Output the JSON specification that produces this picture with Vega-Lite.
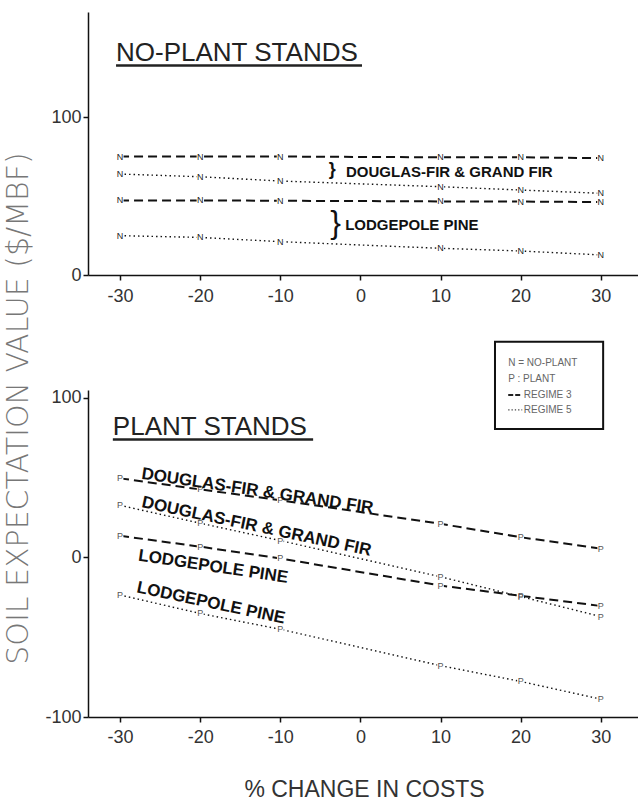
{
  "$schema": "https://vega.github.io/schema/vega-lite/v6.json",
  "padding": {"left": 2, "top": 12, "right": 0, "bottom": 2},
  "bounds": "flush",
  "spacing": 115,
  "background": "white",
  "config": {
    "view": {"stroke": null},
    "font": "Liberation Sans",
    "axis": {
      "grid": false,
      "domainColor": "#111",
      "domainWidth": 1.5,
      "tickColor": "#111",
      "tickWidth": 1.5,
      "tickSize": 5,
      "labelFont": "Liberation Sans",
      "labelFontSize": 18,
      "labelColor": "#333",
      "labelPadding": 6,
      "labelExpr": "toString(datum.value)"
    }
  },
  "datasets": {
    "noplant": [
      {"series": "DF3", "regime": "Regime 3", "code": "N", "pct": -30, "sev": 75.0},
      {"series": "DF3", "regime": "Regime 3", "code": "N", "pct": -20, "sev": 75.0},
      {"series": "DF3", "regime": "Regime 3", "code": "N", "pct": -10, "sev": 75.0},
      {"series": "DF3", "regime": "Regime 3", "code": "N", "pct": 10, "sev": 74.5},
      {"series": "DF3", "regime": "Regime 3", "code": "N", "pct": 20, "sev": 74.5},
      {"series": "DF3", "regime": "Regime 3", "code": "N", "pct": 30, "sev": 74.0},
      {"series": "DF5", "regime": "Regime 5", "code": "N", "pct": -30, "sev": 63.9},
      {"series": "DF5", "regime": "Regime 5", "code": "N", "pct": -20, "sev": 62.2},
      {"series": "DF5", "regime": "Regime 5", "code": "N", "pct": -10, "sev": 59.5},
      {"series": "DF5", "regime": "Regime 5", "code": "N", "pct": 10, "sev": 55.9},
      {"series": "DF5", "regime": "Regime 5", "code": "N", "pct": 20, "sev": 53.8},
      {"series": "DF5", "regime": "Regime 5", "code": "N", "pct": 30, "sev": 51.7},
      {"series": "LP3", "regime": "Regime 3", "code": "N", "pct": -30, "sev": 47.2},
      {"series": "LP3", "regime": "Regime 3", "code": "N", "pct": -20, "sev": 47.2},
      {"series": "LP3", "regime": "Regime 3", "code": "N", "pct": -10, "sev": 47.0},
      {"series": "LP3", "regime": "Regime 3", "code": "N", "pct": 10, "sev": 46.6},
      {"series": "LP3", "regime": "Regime 3", "code": "N", "pct": 20, "sev": 46.5},
      {"series": "LP3", "regime": "Regime 3", "code": "N", "pct": 30, "sev": 46.2},
      {"series": "LP5", "regime": "Regime 5", "code": "N", "pct": -30, "sev": 24.9},
      {"series": "LP5", "regime": "Regime 5", "code": "N", "pct": -20, "sev": 23.8},
      {"series": "LP5", "regime": "Regime 5", "code": "N", "pct": -10, "sev": 21.1},
      {"series": "LP5", "regime": "Regime 5", "code": "N", "pct": 10, "sev": 16.9},
      {"series": "LP5", "regime": "Regime 5", "code": "N", "pct": 20, "sev": 15.2},
      {"series": "LP5", "regime": "Regime 5", "code": "N", "pct": 30, "sev": 12.7}
    ],
    "plant": [
      {"series": "DF3", "regime": "Regime 3", "code": "P", "pct": -30, "sev": 49.6},
      {"series": "DF3", "regime": "Regime 3", "code": "P", "pct": -20, "sev": 42.7},
      {"series": "DF3", "regime": "Regime 3", "code": "P", "pct": -10, "sev": 35.9},
      {"series": "DF3", "regime": "Regime 3", "code": "P", "pct": 10, "sev": 21.1},
      {"series": "DF3", "regime": "Regime 3", "code": "P", "pct": 20, "sev": 12.7},
      {"series": "DF3", "regime": "Regime 3", "code": "P", "pct": 30, "sev": 5.6},
      {"series": "DF5", "regime": "Regime 5", "code": "P", "pct": -30, "sev": 32.7},
      {"series": "DF5", "regime": "Regime 5", "code": "P", "pct": -20, "sev": 21.5},
      {"series": "DF5", "regime": "Regime 5", "code": "P", "pct": -10, "sev": 10.6},
      {"series": "DF5", "regime": "Regime 5", "code": "P", "pct": 10, "sev": -12.1},
      {"series": "DF5", "regime": "Regime 5", "code": "P", "pct": 20, "sev": -24.5},
      {"series": "DF5", "regime": "Regime 5", "code": "P", "pct": 30, "sev": -37.0},
      {"series": "LP3", "regime": "Regime 3", "code": "P", "pct": -30, "sev": 13.6},
      {"series": "LP3", "regime": "Regime 3", "code": "P", "pct": -20, "sev": 6.8},
      {"series": "LP3", "regime": "Regime 3", "code": "P", "pct": -10, "sev": -0.6},
      {"series": "LP3", "regime": "Regime 3", "code": "P", "pct": 10, "sev": -17.6},
      {"series": "LP3", "regime": "Regime 3", "code": "P", "pct": 20, "sev": -24.0},
      {"series": "LP3", "regime": "Regime 3", "code": "P", "pct": 30, "sev": -30.4},
      {"series": "LP5", "regime": "Regime 5", "code": "P", "pct": -30, "sev": -23.5},
      {"series": "LP5", "regime": "Regime 5", "code": "P", "pct": -20, "sev": -35.1},
      {"series": "LP5", "regime": "Regime 5", "code": "P", "pct": -10, "sev": -45.0},
      {"series": "LP5", "regime": "Regime 5", "code": "P", "pct": 10, "sev": -67.8},
      {"series": "LP5", "regime": "Regime 5", "code": "P", "pct": 20, "sev": -77.7},
      {"series": "LP5", "regime": "Regime 5", "code": "P", "pct": 30, "sev": -88.8}
    ],
    "notes": [
      {"panel": "top", "kind": "title", "label": "NO-PLANT STANDS", "pct": -30.5, "sev": 135.4},
      {"panel": "top", "kind": "underline", "pct": -30.5, "pct2": 0.2, "sev": 132.6},
      {"panel": "top", "kind": "note", "label": "DOUGLAS-FIR & GRAND FIR", "pct": -1.8, "sev": 61.8},
      {"panel": "top", "kind": "note", "label": "LODGEPOLE PINE", "pct": -1.9, "sev": 28.5},
      {"panel": "top", "kind": "brace_small", "label": "}", "pct": -3.5, "sev": 66.5},
      {"panel": "top", "kind": "brace_large", "label": "}", "pct": -3.1, "sev": 33.0},
      {"panel": "bottom", "kind": "title", "label": "PLANT STANDS", "pct": -30.9, "sev": 76.7},
      {"panel": "bottom", "kind": "underline", "pct": -30.9, "pct2": -5.9, "sev": 74.0},
      {"panel": "bottom", "kind": "note_a", "label": "DOUGLAS-FIR & GRAND FIR", "pct": -27.4, "sev": 49.4},
      {"panel": "bottom", "kind": "note_b", "label": "DOUGLAS-FIR & GRAND FIR", "pct": -27.4, "sev": 31.6},
      {"panel": "bottom", "kind": "note_a", "label": "LODGEPOLE PINE", "pct": -27.8, "sev": -1.9},
      {"panel": "bottom", "kind": "note_b", "label": "LODGEPOLE PINE", "pct": -28.0, "sev": -21.8},
      {"panel": "bottom", "kind": "legendbox", "pct": 16.8, "pct2": 30.3, "sev": 135.2, "sev2": 80.5},
      {"panel": "bottom", "kind": "legendtext", "label": "N = NO-PLANT", "pct": 18.45, "sev": 122.0},
      {"panel": "bottom", "kind": "legendtext", "label": "P : PLANT", "pct": 18.45, "sev": 112.0},
      {"panel": "bottom", "kind": "legendtext", "label": "REGIME 3", "pct": 20.4, "sev": 101.9},
      {"panel": "bottom", "kind": "legendtext", "label": "REGIME 5", "pct": 20.4, "sev": 92.5},
      {"panel": "bottom", "kind": "legend3", "pct": 18.45, "pct2": 20.2, "sev": 101.9},
      {"panel": "bottom", "kind": "legend5", "pct": 18.45, "pct2": 20.2, "sev": 92.5}
    ]
  },
  "vconcat": [
    {
      "width": 552,
      "height": 263,
      "layer": [
        {
          "data": {"name": "noplant"},
          "mark": {"type": "line", "color": "#111"},
          "encoding": {
            "x": {"field": "pct", "type": "quantitative", "scale": {"domain": [-34, 34.9], "nice": false, "zero": false}, "axis": {"values": [-30, -20, -10, 0, 10, 20, 30], "title": null, "labelPadding": 7}},
            "y": {"field": "sev", "type": "quantitative", "scale": {"domain": [0, 166.5], "nice": false, "zero": false}, "axis": {"values": [0, 100], "title": null, "labelPadding": 2}},
            "detail": {"field": "series"},
            "strokeDash": {"field": "regime", "type": "nominal", "scale": {"domain": ["Regime 3", "Regime 5"], "range": [[9, 5], [1.5, 3]]}, "legend": null},
            "strokeWidth": {"field": "regime", "type": "nominal", "scale": {"domain": ["Regime 3", "Regime 5"], "range": [2, 1.4]}, "legend": null}
          }
        },
        {
          "data": {"name": "noplant"},
          "mark": {"type": "point", "shape": "square", "filled": true, "color": "white", "opacity": 1, "size": 50},
          "encoding": {
            "x": {"field": "pct", "type": "quantitative"},
            "y": {"field": "sev", "type": "quantitative"}
          }
        },
        {
          "data": {"name": "noplant"},
          "mark": {"type": "text", "fontSize": 9, "color": "#222", "align": "center", "baseline": "middle"},
          "encoding": {
            "x": {"field": "pct", "type": "quantitative"},
            "y": {"field": "sev", "type": "quantitative"},
            "text": {"field": "code"}
          }
        },
        {
          "data": {"name": "notes"},
          "transform": [{"filter": "datum.panel == 'top' && datum.kind == 'title'"}],
          "mark": {"type": "text", "fontSize": 26, "color": "#222", "align": "left", "baseline": "alphabetic"},
          "encoding": {
            "x": {"field": "pct", "type": "quantitative"},
            "y": {"field": "sev", "type": "quantitative"},
            "text": {"field": "label"}
          }
        },
        {
          "data": {"name": "notes"},
          "transform": [{"filter": "datum.panel == 'top' && datum.kind == 'underline'"}],
          "mark": {"type": "rule", "color": "#222", "strokeWidth": 2.5},
          "encoding": {
            "x": {"field": "pct", "type": "quantitative"},
            "x2": {"field": "pct2"},
            "y": {"field": "sev", "type": "quantitative"}
          }
        },
        {
          "data": {"name": "notes"},
          "transform": [{"filter": "datum.panel == 'top' && datum.kind == 'note'"}],
          "mark": {"type": "text", "fontSize": 15, "fontWeight": "bold", "color": "#111", "align": "left", "baseline": "alphabetic"},
          "encoding": {
            "x": {"field": "pct", "type": "quantitative"},
            "y": {"field": "sev", "type": "quantitative"},
            "text": {"field": "label"}
          }
        },
        {
          "data": {"name": "notes"},
          "transform": [{"filter": "datum.panel == 'top' && datum.kind == 'brace_small'"}],
          "mark": {"type": "text", "fontSize": 18, "fontWeight": "bold", "color": "#111", "align": "center", "baseline": "middle"},
          "encoding": {
            "x": {"field": "pct", "type": "quantitative"},
            "y": {"field": "sev", "type": "quantitative"},
            "text": {"field": "label"}
          }
        },
        {
          "data": {"name": "notes"},
          "transform": [{"filter": "datum.panel == 'top' && datum.kind == 'brace_large'"}],
          "mark": {"type": "text", "fontSize": 32, "color": "#111", "align": "center", "baseline": "middle"},
          "encoding": {
            "x": {"field": "pct", "type": "quantitative"},
            "y": {"field": "sev", "type": "quantitative"},
            "text": {"field": "label"}
          }
        }
      ]
    },
    {
      "width": 552,
      "height": 327,
      "layer": [
        {
          "data": {"name": "plant"},
          "mark": {"type": "line", "color": "#111"},
          "encoding": {
            "x": {"field": "pct", "type": "quantitative", "scale": {"domain": [-34, 34.9], "nice": false, "zero": false}, "axis": {"values": [-30, -20, -10, 0, 10, 20, 30], "title": "% CHANGE IN COSTS", "titleFont": "Liberation Sans", "titleFontSize": 23, "titleFontWeight": "normal", "titleColor": "#333", "titlePadding": 32, "labelPadding": 6}},
            "y": {"field": "sev", "type": "quantitative", "scale": {"domain": [-100, 105], "nice": false, "zero": false}, "axis": {"values": [-100, 0, 100], "title": "SOIL EXPECTATION VALUE ($/MBF)", "titleFont": "DejaVu Sans", "titleFontSize": 30, "titleFontWeight": 200, "titleColor": "#777", "titleAngle": 270, "titleAlign": "center", "titleBaseline": "alphabetic", "titleX": -61, "titleY": 18, "labelPadding": 2}},
            "detail": {"field": "series"},
            "strokeDash": {"field": "regime", "type": "nominal", "scale": {"domain": ["Regime 3", "Regime 5"], "range": [[9, 5], [1.5, 3]]}, "legend": null},
            "strokeWidth": {"field": "regime", "type": "nominal", "scale": {"domain": ["Regime 3", "Regime 5"], "range": [2, 1.4]}, "legend": null}
          }
        },
        {
          "data": {"name": "plant"},
          "mark": {"type": "point", "shape": "square", "filled": true, "color": "white", "opacity": 1, "size": 45},
          "encoding": {
            "x": {"field": "pct", "type": "quantitative"},
            "y": {"field": "sev", "type": "quantitative"}
          }
        },
        {
          "data": {"name": "plant"},
          "mark": {"type": "text", "fontSize": 9, "color": "#555", "align": "center", "baseline": "middle"},
          "encoding": {
            "x": {"field": "pct", "type": "quantitative"},
            "y": {"field": "sev", "type": "quantitative"},
            "text": {"field": "code"}
          }
        },
        {
          "data": {"name": "notes"},
          "transform": [{"filter": "datum.panel == 'bottom' && datum.kind == 'title'"}],
          "mark": {"type": "text", "fontSize": 26, "color": "#222", "align": "left", "baseline": "alphabetic"},
          "encoding": {
            "x": {"field": "pct", "type": "quantitative"},
            "y": {"field": "sev", "type": "quantitative"},
            "text": {"field": "label"}
          }
        },
        {
          "data": {"name": "notes"},
          "transform": [{"filter": "datum.panel == 'bottom' && datum.kind == 'underline'"}],
          "mark": {"type": "rule", "color": "#222", "strokeWidth": 2.5},
          "encoding": {
            "x": {"field": "pct", "type": "quantitative"},
            "x2": {"field": "pct2"},
            "y": {"field": "sev", "type": "quantitative"}
          }
        },
        {
          "data": {"name": "notes"},
          "transform": [{"filter": "datum.panel == 'bottom' && datum.kind == 'note_a'"}],
          "mark": {"type": "text", "fontSize": 17, "fontWeight": "bold", "color": "#111", "align": "left", "baseline": "alphabetic", "angle": 8.5},
          "encoding": {
            "x": {"field": "pct", "type": "quantitative"},
            "y": {"field": "sev", "type": "quantitative"},
            "text": {"field": "label"}
          }
        },
        {
          "data": {"name": "notes"},
          "transform": [{"filter": "datum.panel == 'bottom' && datum.kind == 'note_b'"}],
          "mark": {"type": "text", "fontSize": 17, "fontWeight": "bold", "color": "#111", "align": "left", "baseline": "alphabetic", "angle": 12},
          "encoding": {
            "x": {"field": "pct", "type": "quantitative"},
            "y": {"field": "sev", "type": "quantitative"},
            "text": {"field": "label"}
          }
        },
        {
          "data": {"name": "notes"},
          "transform": [{"filter": "datum.panel == 'bottom' && datum.kind == 'legendbox'"}],
          "mark": {"type": "rect", "fill": "white", "stroke": "#111", "strokeWidth": 2},
          "encoding": {
            "x": {"field": "pct", "type": "quantitative"},
            "x2": {"field": "pct2"},
            "y": {"field": "sev", "type": "quantitative"},
            "y2": {"field": "sev2"}
          }
        },
        {
          "data": {"name": "notes"},
          "transform": [{"filter": "datum.panel == 'bottom' && datum.kind == 'legendtext'"}],
          "mark": {"type": "text", "fontSize": 10, "color": "#666", "align": "left", "baseline": "middle"},
          "encoding": {
            "x": {"field": "pct", "type": "quantitative"},
            "y": {"field": "sev", "type": "quantitative"},
            "text": {"field": "label"}
          }
        },
        {
          "data": {"name": "notes"},
          "transform": [{"filter": "datum.panel == 'bottom' && datum.kind == 'legend3'"}],
          "mark": {"type": "rule", "color": "#222", "strokeWidth": 2, "strokeDash": [5, 2]},
          "encoding": {
            "x": {"field": "pct", "type": "quantitative"},
            "x2": {"field": "pct2"},
            "y": {"field": "sev", "type": "quantitative"}
          }
        },
        {
          "data": {"name": "notes"},
          "transform": [{"filter": "datum.panel == 'bottom' && datum.kind == 'legend5'"}],
          "mark": {"type": "rule", "color": "#444", "strokeWidth": 1.3, "strokeDash": [1.3, 2]},
          "encoding": {
            "x": {"field": "pct", "type": "quantitative"},
            "x2": {"field": "pct2"},
            "y": {"field": "sev", "type": "quantitative"}
          }
        }
      ]
    }
  ]
}
